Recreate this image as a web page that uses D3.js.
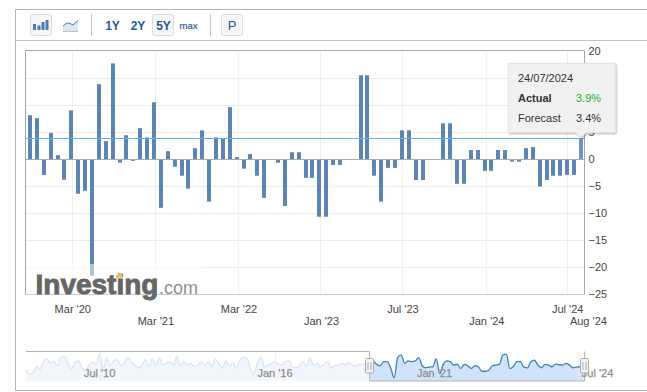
<!DOCTYPE html>
<html>
<head>
<meta charset="utf-8">
<script src="https://cdn.jsdelivr.net/npm/d3@7"></script>
<style>
    html, body { margin: 0; padding: 0; background: #fff; }
    svg { display: block; font-family: "Liberation Sans", Arial, sans-serif; }
</style>
</head>
<body>
<svg id="chartsvg" width="647" height="392"></svg>
<script>
// monthly readings, oldest first
const values = [
    8.2, 7.65, -2.85, 4.9, 0.8, -3.75, 9.1, -6.35, -5.8, -21.5,
    13.95, 3.4, 17.8, -0.6, 4.5, -0.25, 5.8, 4.1, 10.6, -8.95,
    1.55, -1.35, -3, -5.4, 2.1, 5.4, -7.8, 4.1, 3.8, 9.7,
    0.45, -1.7, 1, -3, -7.1, 0.1, -0.6, -8.6, 1.35, 1.35,
    -3.4, -3.4, -10.6, -10.6, -1, -1, 0.1, 0.1, 15.6, 15.6,
    -3, -7.8, -1.55, -1.55, 5.4, 5.4, -3.8, -3.8, 0.05, 0.05,
    6.7, 6.7, -4.5, -4.5, 1.75, 1.75, -2.1, -2.1, 1.75, 1.75,
    -0.4, -0.4, 2.1, 2.3, -5, -3.8, -3, -3, -2.85, -2.85,
    3.9
];
const yTicks = [20, 15, 10, 5, 0, -5, -10, -15, -20, -25];
// these two labels are covered by the tooltip in the picture
const yTicksHidden = [15, 10];
const lastValue = 3.9;

// x axis is ordinal, so the labels sit on fractional bar numbers
const xTickPos = [6.14, 18.2, 30.27, 42.25, 54.08, 66.25, 78, 81];
const xTickLabels = ["Mar '20", "Mar '21", "Mar '22", "Jan '23", "Jul '23", "Jan '24", "Jul '24", "Aug '24"];
const xTickRow = [0, 1, 0, 1, 0, 1, 0, 1];

// the whole history in the small navigator strip
const navValues = [
    -7.6, -15.6, -12.6, -4, -7.6, 3.5, 7.6, 1, 3.5, -2.5,
    9.6, 11.1, 1, -7.6, 2.5, 4.6, -5.5, -10.6, -1.5, 2.5,
    -0.5, 14.7, -7.6, 9.6, -2.5, 4.6, 6.1, -2.5, 1, 9.6,
    3.5, -1.5, -5.5, -2.5, 6.1, -4, 7.6, -1.5, 9.6, -1.5,
    1, 3.5, -1.5, 11.1, -2.5, 3.5, -1.5, 1, -4, -1.5,
    3.5, -1.5, 3.5, -4, 7.6, 1, -5.5, 4.6, -4, 2.5,
    -6.6, 6.1, 10.1, 8.6, -6.6, -14.1, 1, 10.1, -4, -1.5,
    1, 3.5, -0.5, -1.5, 3.5, 4.6, -4, -5.5, -2.5, 3.5,
    -4, 8.6, -1.5, 1, -4, -0.5, 3.5, -5.5, -2.5, -1.5,
    1, -1.5, 2.5, -1.5, -2.5, -0.5, -0.5, -0.5,
    6.1, 4.6, -0.5, -2.5, 3.5, 3.5, -5.5, -20.7, 9.6, 13.6,
    1, 4.6, 3.5, 4.6, 9.6, -2.5, -5.5, -4.5, -4, 7.6,
    -14.1, -0.5, 4.6, 3.5, -1.5, 0, -6.6, -0.5, -2.5, -6.6,
    -2.5, -4, -10.6, -10.6,
    -9.1, -2.5, -1.5, -0.5, 13.6, 14.7, -6.6, -3.5, 3.5, 3.5,
    -4.5, -5.5, 3.5, 5.6, -1.5, -5.5, -0.5, -1.5, -4, 0,
    -1, -1.5, 1, -1.5, -5.5, -4.5, -4, -4
];
const navLabels = ["Jul '10", "Jan '16", "Jan '21", "Jul '24"];
const navLabelPos = [21, 71, 116.5, 163];
const navGridPos = [21, 71, 116.5, 157.5];
const navSelected = [98, 159.3];

const rangeButtons = ["1Y", "2Y", "5Y"];

const svg = d3.select('#chartsvg');

const plot = { left: 25.5, right: 584.5, top: 51.5, bottom: 294.5 };

const xScale = d3.scaleLinear().domain([0, values.length - 1]).range([30, 581]);
const yScale = d3.scaleLinear().domain([-25, 20]).range([plot.bottom, plot.top]);

// outer frame and toolbar
svg.append('path')
    .attr('d', 'M647 9.5H15.5V390.5H647')
    .attr('fill', 'none')
    .attr('stroke', '#b4b4b4');
svg.append('line')
    .attr('x1', 15.5).attr('x2', 647).attr('y1', 40.5).attr('y2', 40.5)
    .attr('stroke', '#c4c4c4');

function toolbarBox(x, w) {
    svg.append('rect')
        .attr('x', x).attr('y', 14.5).attr('width', w).attr('height', 21).attr('rx', 2)
        .attr('fill', '#f7f7f7').attr('stroke', '#dcdcdc');
}
toolbarBox(30.5, 21);
toolbarBox(152.5, 21);
toolbarBox(221.5, 21);

[[91.5], [210.5]].forEach(d => {
    svg.append('line')
        .attr('x1', d[0]).attr('x2', d[0]).attr('y1', 14).attr('y2', 36)
        .attr('stroke', '#c4c4c4');
});

// bar chart icon
[[33, 24, 6], [37.5, 25.5, 4.5], [41.5, 22, 8], [45.5, 20, 10]].forEach(d => {
    svg.append('rect')
        .attr('x', d[0]).attr('y', d[1]).attr('width', 3).attr('height', d[2])
        .attr('fill', '#4d7cb0');
});
// line chart icon
svg.append('path')
    .attr('d', 'M63 26L67 23L70 23.5L73 25L78 20.5V31.5H63Z')
    .attr('fill', '#dbe6f2');
svg.append('path')
    .attr('d', 'M63 26L67 23L70 23.5L73 25L78 20.5')
    .attr('fill', 'none').attr('stroke', '#4d7cb0');
svg.append('line')
    .attr('x1', 63).attr('x2', 78).attr('y1', 31.5).attr('y2', 31.5)
    .attr('stroke', '#b5c6da');

rangeButtons.forEach((d, i) => {
    svg.append('text')
        .attr('x', 112.5 + i * 25.5).attr('y', 29.5)
        .attr('text-anchor', 'middle')
        .attr('font-size', 12).attr('font-weight', 'bold')
        .attr('fill', '#1f5a96')
        .text(d);
});
svg.append('text')
    .attr('x', 188.5).attr('y', 28.5)
    .attr('text-anchor', 'middle')
    .attr('font-size', 9.5)
    .attr('stroke', '#2c5f92').attr('stroke-width', 0.2)
    .attr('fill', '#2c5f92')
    .text('max');
svg.append('text')
    .attr('x', 232).attr('y', 30)
    .attr('text-anchor', 'middle')
    .attr('font-size', 13)
    .attr('fill', '#1f5a96')
    .text('P');

// grid
svg.append('g').selectAll('line')
    .data(yTicks.filter(d => d != 0 && d != -25 && d != 20))
    .enter().append('line')
    .attr('x1', plot.left).attr('x2', plot.right)
    .attr('y1', d => Math.floor(yScale(d)) + 0.5).attr('y2', d => Math.floor(yScale(d)) + 0.5)
    .attr('stroke', '#ececec');
svg.append('g').selectAll('line')
    .data(xTickPos.filter(d => xScale(d) < plot.right))
    .enter().append('line')
    .attr('x1', d => Math.floor(xScale(d)) + 0.5).attr('x2', d => Math.floor(xScale(d)) + 0.5)
    .attr('y1', plot.top).attr('y2', plot.bottom)
    .attr('stroke', '#f0f0f0');

// plot borders
svg.append('path')
    .attr('d', `M${plot.left} ${plot.bottom}V${plot.top - 1}H${plot.right}V${plot.bottom}`)
    .attr('fill', 'none').attr('stroke', '#a6a6a6');
svg.append('line')
    .attr('x1', plot.left).attr('x2', plot.right).attr('y1', plot.bottom).attr('y2', plot.bottom)
    .attr('stroke', '#c0d0e0');

// bars
svg.append('g').selectAll('rect')
    .data(values)
    .enter().append('rect')
    .attr('x', (d, i) => Math.round(xScale(i)) - 2)
    .attr('y', d => yScale(Math.max(d, 0)))
    .attr('width', 4)
    .attr('height', d => Math.abs(yScale(d) - yScale(0)))
    .attr('fill', (d, i) => i == values.length - 1 ? '#6c97c4' : '#5d85b2');

// zero line and the line of the latest reading
svg.append('line')
    .attr('x1', plot.left).attr('x2', plot.right)
    .attr('y1', Math.floor(yScale(0)) + 0.5).attr('y2', Math.floor(yScale(0)) + 0.5)
    .attr('stroke', '#aaaaaa');
svg.append('line')
    .attr('x1', plot.left).attr('x2', plot.right)
    .attr('y1', Math.floor(yScale(lastValue)) + 0.5).attr('y2', Math.floor(yScale(lastValue)) + 0.5)
    .attr('stroke', '#62aeea');

// axes
const yAxis = d3.axisRight(yScale)
    .tickValues(yTicks.filter(d => !yTicksHidden.includes(d)))
    .tickSize(0).tickPadding(4);
svg.append('g')
    .attr('transform', `translate(${plot.right}, -0.5)`)
    .call(yAxis)
    .call(g => g.select('.domain').remove())
    .selectAll('text')
    .attr('font-size', 11).attr('font-family', '"Liberation Sans", Arial, sans-serif').attr('fill', '#444');

[0, 1].forEach(row => {
    const rowTicks = xTickPos.filter((d, i) => xTickRow[i] == row);
    const xAxis = d3.axisBottom(xScale)
        .tickValues(rowTicks)
        .tickFormat(d => xTickLabels[xTickPos.indexOf(d)])
        .tickSize(0).tickPadding(0);
    svg.append('g')
        .attr('transform', `translate(0, ${row == 0 ? 305 : 317})`)
        .call(xAxis)
        .call(g => g.select('.domain').remove())
        .selectAll('text')
        .attr('font-size', 11).attr('font-family', '"Liberation Sans", Arial, sans-serif').attr('fill', '#444');
});

// Investing.com watermark
svg.append('rect')
    .attr('x', 27).attr('y', 264).attr('width', 180).attr('height', 30)
    .attr('fill', '#fff').attr('opacity', 0.5);
svg.append('text')
    .attr('x', 35.5).attr('y', 294)
    .attr('font-size', 28).attr('font-weight', 'bold')
    .attr('fill', '#666').attr('stroke', '#666').attr('stroke-width', 0.9)
    .text('Investing');
svg.append('text')
    .attr('x', 159).attr('y', 294)
    .attr('font-size', 18)
    .attr('fill', '#8f8f8f')
    .text('.com');
svg.append('path')
    .attr('d', 'M116 275L122 273V277L116 279Z')
    .attr('fill', '#f6bf5a');

// navigator
const nav = { left: 26, right: 583.5, top: 351.5, bottom: 381 };
const navX = d3.scaleLinear().domain([0, navValues.length - 1]).range([nav.left, nav.right]);
const navY = d3.scaleLinear().domain([-25, 20]).range([nav.bottom, nav.top - 1]);
const navLine = d3.line().x((d, i) => navX(i)).y(d => navY(d)).curve(d3.curveMonotoneX);
const navArea = d3.area().x((d, i) => navX(i)).y0(nav.bottom).y1(d => navY(d)).curve(d3.curveMonotoneX);
const selLeft = navX(navSelected[0]);
const selRight = navX(navSelected[1]);

const defs = svg.append('defs');
defs.append('clipPath').attr('id', 'navIn').append('rect')
    .attr('x', selLeft).attr('y', 340).attr('width', selRight - selLeft).attr('height', 50);
defs.append('clipPath').attr('id', 'navOut').append('rect')
    .attr('x', nav.left).attr('y', 340).attr('width', selLeft - nav.left).attr('height', 50);

svg.append('path').datum(navValues).attr('d', navArea)
    .attr('clip-path', 'url(#navOut)').attr('fill', '#f3f7fd');
svg.append('path').datum(navValues).attr('d', navLine)
    .attr('clip-path', 'url(#navOut)').attr('fill', 'none').attr('stroke', '#d9e5f1').attr('stroke-width', 1.3);
svg.append('path').datum(navValues).attr('d', navArea)
    .attr('clip-path', 'url(#navIn)').attr('fill', '#cfe3fb');
svg.append('g').selectAll('line')
    .data(navGridPos)
    .enter().append('line')
    .attr('x1', d => Math.round(navX(d)) + 0.5).attr('x2', d => Math.round(navX(d)) + 0.5)
    .attr('y1', nav.top).attr('y2', nav.bottom)
    .attr('stroke', '#eeeeee');
svg.append('path').datum(navValues).attr('d', navLine)
    .attr('clip-path', 'url(#navIn)').attr('fill', 'none').attr('stroke', '#3f80bf').attr('stroke-width', 1.3);

svg.append('path')
    .attr('d', `M${nav.left} ${nav.top}H${selLeft}V${nav.bottom}H${selRight}V${nav.top}`)
    .attr('fill', 'none').attr('stroke', '#b4b4b4');

svg.append('g').selectAll('text')
    .data(navLabels)
    .enter().append('text')
    .attr('x', (d, i) => navX(navLabelPos[i]))
    .attr('y', 377)
    .attr('text-anchor', 'middle')
    .attr('font-size', 11)
    .attr('stroke', '#8c8c8c').attr('stroke-width', 0.25)
    .attr('fill', '#8c8c8c')
    .text(d => d);

[selLeft, selRight].forEach(x => {
    const hx = Math.floor(x) + 0.5;
    svg.append('rect')
        .attr('x', hx - 4).attr('y', 358.5).attr('width', 8).attr('height', 14.5).attr('rx', 1)
        .attr('fill', '#f4f4f4').attr('stroke', '#aaaaaa');
    [-1.5, 1.5].forEach(o => {
        svg.append('line')
            .attr('x1', hx + o).attr('x2', hx + o).attr('y1', 362).attr('y2', 370)
            .attr('stroke', '#aaaaaa');
    });
});

// tooltip for the last bar
const tip = svg.append('g');
const tipX = xScale(values.length - 1);
defs.append('filter').attr('id', 'tipShadow')
    .attr('x', '-10%').attr('y', '-10%').attr('width', '125%').attr('height', '125%')
    .append('feDropShadow')
    .attr('dx', 1).attr('dy', 1).attr('stdDeviation', 1.2)
    .attr('flood-color', '#000').attr('flood-opacity', 0.3);
tip.append('path')
    .attr('d', `M508.5 63.5H615V132.5H${tipX + 5}L${tipX} 137.5L${tipX - 5} 132.5H508.5Z`)
    .attr('fill', '#f1f1f1').attr('stroke', '#e4e4e4')
    .attr('filter', 'url(#tipShadow)');
tip.append('text').attr('x', 518).attr('y', 82)
    .attr('font-size', 11).attr('fill', '#333').text('24/07/2024');
tip.append('text').attr('x', 518).attr('y', 102)
    .attr('font-size', 11).attr('font-weight', 'bold').attr('fill', '#333').text('Actual');
tip.append('text').attr('x', 576).attr('y', 102)
    .attr('font-size', 11).attr('fill', '#1fb01f').text(lastValue + '%');
tip.append('text').attr('x', 518).attr('y', 122)
    .attr('font-size', 11).attr('fill', '#333').text('Forecast');
tip.append('text').attr('x', 576).attr('y', 122)
    .attr('font-size', 11).attr('fill', '#333').text('3.4%');
</script>
</body>
</html>
